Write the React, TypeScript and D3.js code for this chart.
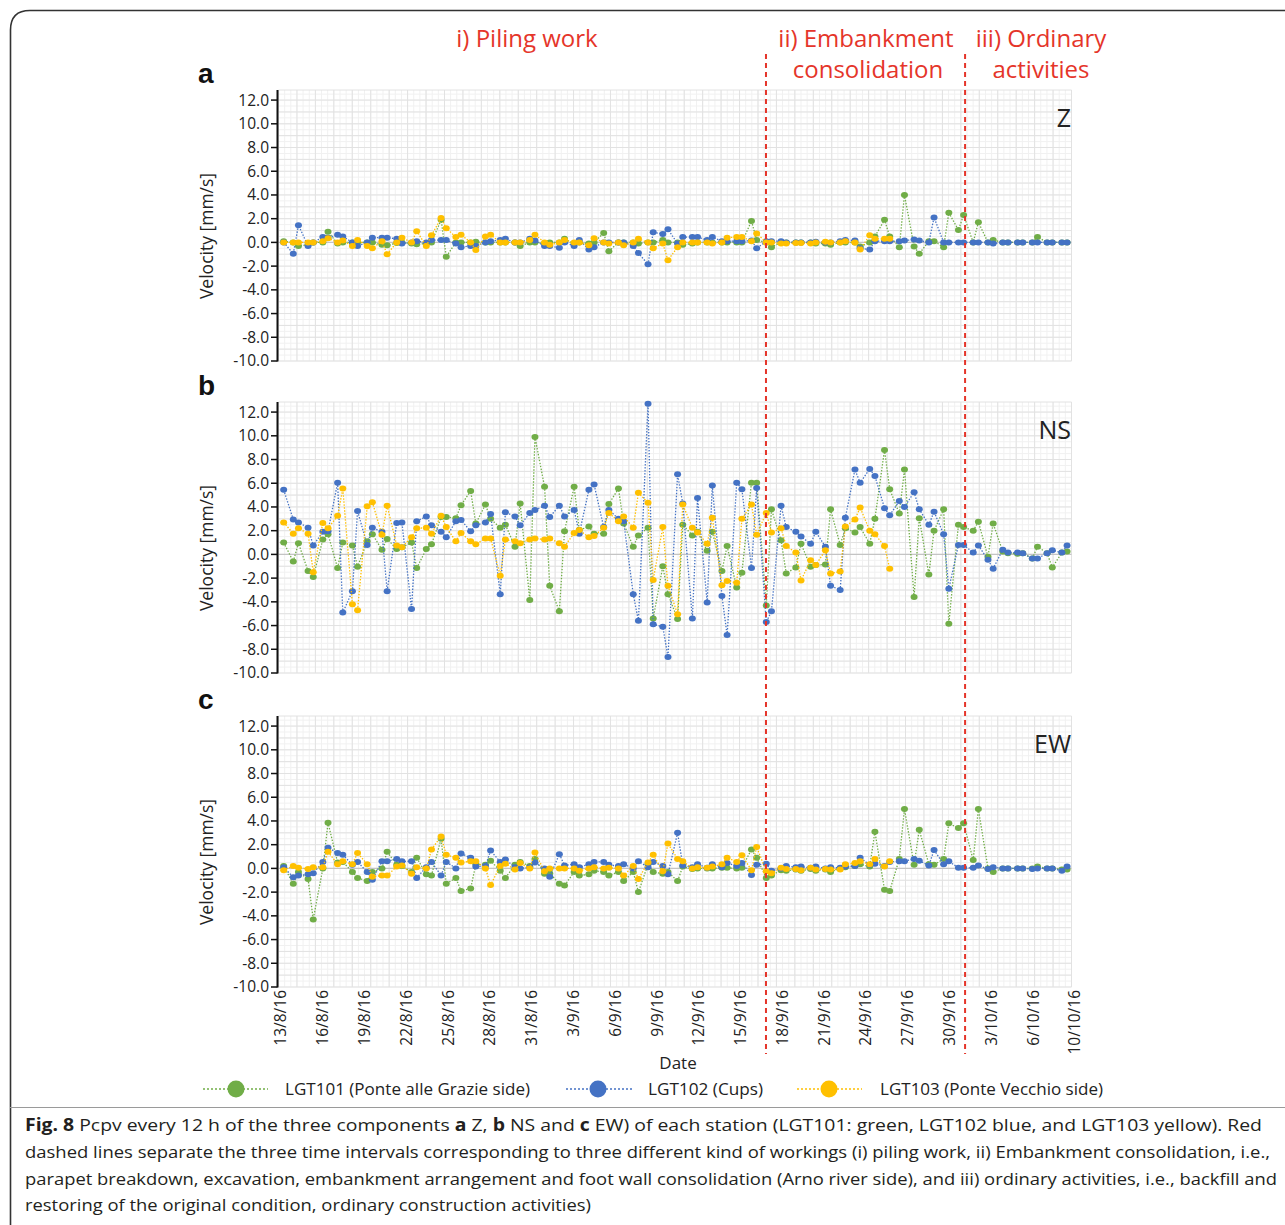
import { line, range, scaleLinear, scalePoint } from "d3";

// date labels printed under panel c (every 3 days)
const tickLabels = [
  "13/8/16", "16/8/16", "19/8/16", "22/8/16", "25/8/16", "28/8/16", "31/8/16",
  "3/9/16", "6/9/16", "9/9/16", "12/9/16", "15/9/16", "18/9/16", "21/9/16",
  "24/9/16", "27/9/16", "30/9/16", "3/10/16", "6/10/16", "10/10/16",
];

// two solutions per day: first at day k, second ~8.5 h later
const sampleDays: number[] = range(107).map((j) => {
  const k = Math.floor((j + 1) / 2);
  return j % 2 === 0 ? k + 0.35 : k;
});

// phase boundaries (same day units as sampleDays)
const phaseBreaks = [32.98, 46.45];

// ---- a) Z ----
const zGreen = [
  0.1,
  0, -0.3, -0.2, 0, 0, 0.9, -0.1, 0, 0, 0,
  0, 0, -0.2, -0.25, -0.05, 0, -0.1, -0.15, -0.1, 0,
  1.9, -1.2, 0, 0, 0, 0.05, 0, 0, 0, 0,
  0, -0.3, 0, 0, -0.1, 0, 0, 0.3, -0.1, 0,
  -0.1, 0, 0.8, -0.75, 0, 0, 0, -0.1, 0, 0,
  0.2, 0, 0, -0.2, -0.1, 0, 0, 0, 0, 0,
  0, 0, 1.8, 0.2, 0, -0.4, 0, 0, 0, 0,
  0, -0.1, -0.1, -0.2, 0, 0, 0, -0.35, 0, 0.5,
  1.9, 0.5, -0.4, 4.0, -0.35, -0.95, 0.1, 0.1, -0.4, 2.5,
  1.05, 2.3, 0, 1.7, 0, 0.2, 0, 0, 0, 0,
  0, 0.45, 0, 0, 0, 0,
];
const zBlue = [
  0,
  -0.95, 1.45, -0.3, 0, 0.45, 0.4, 0.65, 0.5, 0, -0.3,
  0, 0.4, 0.4, 0.4, 0.3, -0.1, 0, 0.1, 0, 0.2,
  0.2, 0.2, -0.1, -0.4, -0.3, -0.3, 0, 0.1, 0.2, 0.3,
  0, 0, 0.3, 0.15, -0.3, -0.3, -0.45, 0, -0.3, 0.2,
  -0.6, -0.4, 0, 0, 0, 0, -0.3, -0.9, -1.85, 0.85,
  0.7, 1.1, -0.1, 0.45, 0.45, 0.45, 0.2, 0.45, 0.1, 0.1,
  0.1, 0.1, 0.15, -0.5, 0.1, 0.1, 0.1, 0, 0, 0,
  0, 0.05, 0, 0, 0.1, 0.2, 0.15, -0.5, -0.6, 0.1,
  0.1, 0.1, 0.1, 0.15, 0.25, 0.15, 0, 2.1, 0, 0,
  0, 0, 0, 0, 0, -0.1, 0, 0, 0, 0,
  0, 0, 0, 0, 0, 0,
];
const zYellow = [
  0,
  0, 0, 0, 0, 0.1, 0.35, 0, 0.15, -0.3, 0.2,
  -0.3, -0.5, 0.1, -1.0, 0, 0.4, 0, 0.95, -0.3, 0.6,
  2.05, 1.2, 0.45, 0.65, 0, -0.65, 0.5, 0.65, 0, 0,
  0, 0, 0.2, 0.65, 0, -0.2, 0, 0.2, 0, 0,
  -0.25, 0.35, 0, -0.1, 0, -0.25, 0, 0.3, 0, -0.5,
  -0.1, -1.5, -0.4, 0, 0, 0, 0, -0.1, 0, 0.4,
  0.45, 0.45, 0.1, 0.75, 0, 0, -0.1, -0.1, -0.05, -0.05,
  -0.1, 0, 0.05, 0, 0, 0.1, 0, -0.6, 0.6, 0.3,
  0.3, 0.3,
];

// ---- b) NS ----
const nsGreen = [
  1.0,
  -0.6, 0.95, -1.4, -1.9, 1.25, 1.7, -1.15, 1.0, 0.75, -1.05,
  1.1, 1.7, 0.4, 1.3, 0.45, 0.6, 1.0, -1.15, 0.45, 0.85,
  3.15, 3.15, 3.05, 4.15, 5.35, 2.6, 4.2, 3.0, 2.25, 2.5,
  0.65, 4.3, -3.85, 9.9, 5.7, -2.65, -4.8, 1.95, 5.7, 2.05,
  2.35, 1.75, 1.75, 4.25, 5.55, 2.6, 0.65, 1.6, 2.25, -5.4,
  -1.0, -3.35, -5.45, 2.5, 1.6, 1.9, 0.3, 1.9, -1.4, 0.7,
  -2.8, -1.55, 6.05, 6.05, -4.3, 3.8, 1.2, -1.6, -1.1, 0.9,
  -1.05, -0.9, -0.85, 3.8, 0.8, 2.2, 1.85, 2.3, 0.9, 3.0,
  8.8, 5.5, 3.45, 7.15, -3.6, 3.05, -1.7, 2.0, 3.8, -5.85,
  2.5, 2.3, 2.0, 2.75, -0.2, 2.6, 0.25, 0.1, 0.05, 0.1,
  -0.35, 0.65, 0.1, -1.1, 0.15, 0.25,
];
const nsBlue = [
  5.45,
  2.95, 2.7, 2.25, 0.75, 1.9, 1.95, 6.05, -4.9, -3.1, 3.65,
  0.8, 2.25, 1.9, -3.1, 2.65, 2.7, -4.6, 2.8, 3.2, 2.45,
  1.9, 1.45, 2.8, 2.9, 1.95, 2.45, 2.7, 3.4, -3.35, 3.55,
  3.2, 2.45, 3.5, 3.75, 4.1, 3.15, 4.1, 3.2, 3.75, 1.75,
  5.45, 5.9, 2.3, 3.75, 3.0, 2.8, -3.35, -5.6, 12.7, -5.9,
  -6.1, -8.65, 6.75, 4.3, -5.4, 4.75, -4.05, 5.8, -3.5, -6.8,
  6.05, 5.5, -1.15, 5.6, -5.7, -4.8, 4.1, 2.3, 1.9, 1.5,
  0.9, 1.9, 0.65, -2.65, -3.0, 3.1, 7.15, 6.05, 7.2, 6.6,
  3.9, 3.3, 4.5, 4.0, 5.25, 3.8, 2.5, 3.6, 1.7, -2.9,
  0.8, 0.8, 0.15, 0.75, -0.45, -1.2, 0.4, 0.15, 0.15, 0.1,
  -0.35, -0.35, 0.1, 0.35, 0.15, 0.75,
];
const nsYellow = [
  2.7,
  1.75, 2.2, 1.75, -1.5, 2.65, 2.2, 3.25, 5.55, -4.2, -4.7,
  4.05, 4.4, 1.65, 4.1, 0.75, 0.6, 1.45, 2.2, 2.25, 1.75,
  3.25, 2.3, 1.1, 1.8, 1.1, 0.85, 1.35, 1.35, -1.8, 1.25,
  1.1, 0.95, 1.25, 1.35, 1.25, 1.35, 0.95, 0.65, 1.8, 2.05,
  1.45, 1.55, 2.25, 3.5, 2.8, 3.2, 2.25, 5.2, 4.35, -2.15,
  2.3, -2.65, -5.05, 4.2, 2.25, 1.85, 0.9, 3.1, -2.6, -2.25,
  -2.4, 3.0, 4.2, 1.65, 3.5, 1.85, 2.2, 0.7, 0.15, -2.2,
  -0.5, -0.9, 0.35, -1.6, -1.45, 2.35, 2.95, 3.95, 2.0, 1.7,
  0.7, -1.2,
];

// ---- c) EW ----
const ewGreen = [
  0.2,
  -1.3, -0.3, -0.9, -4.3, 0, 3.85, 0.5, 0.55, -0.3, -0.8,
  -1.07, -0.3, 0, 1.4, 0.3, 0.2, -0.3, 0.9, -0.5, -0.6,
  2.5, -1.3, -0.8, -1.9, -1.7, 0.35, 0.3, 0.65, -0.2, -0.8,
  0.3, 0.55, 0.2, 0.8, -0.45, -0.4, -1.3, -1.45, -0.3, -0.6,
  -0.5, -0.2, -0.3, -0.6, -0.3, -1.07, -0.3, -2.0, 0.35, -0.3,
  -0.45, -0.3, -1.07, 0.15, -0.05, 0, 0, 0, 0.05, 0.05,
  0, 0.05, 1.6, 0.9, -0.8, -0.6, -0.15, -0.2, -0.1, -0.2,
  -0.05, -0.2, -0.1, -0.3, 0, 0.1, 0.2, 0.35, 0.15, 3.1,
  -1.8, -1.9, 0.8, 5.0, 0.3, 3.25, 0.35, 0.3, 0.8, 3.8,
  3.4, 3.8, 0.7, 5.0, 0, -0.3, 0, 0, 0, 0,
  0, 0.15, 0, 0, -0.1, -0.1,
];
const ewBlue = [
  0.1,
  -0.75, -0.6, -0.5, -0.4, 0.55, 1.75, 1.3, 1.15, 0.3, 0.55,
  -0.3, -0.95, 0.6, 0.6, 0.8, 0.6, 0.6, -0.8, 0.1, 0.55,
  -0.6, 0.55, 0, 1.25, 0.9, 0.15, 0.2, 1.5, 0.55, 0.75,
  0.1, 0, 0.1, 0.5, 0, -0.7, 1.2, 0.25, 0.35, 0.1,
  0.35, 0.55, 0.55, 0.3, 0.2, 0.35, 0, 0.6, 0.1, 0.55,
  0.2, -0.5, 3.0, 0.25, 0.1, 0.35, 0.05, 0.35, 0.1, 0.45,
  0.2, 0.45, -0.55, 0.3, 0.4, -0.2, 0, 0.2, 0.1, 0.15,
  0.05, 0.15, 0, 0.1, 0.05, 0.15, 0.2, 0.9, 0.3, 0.4,
  0.2, 0.55, 0.6, 0.6, 0.8, 0.65, 0.25, 1.55, 0.35, 0.6,
  0.05, 0.05, 0.05, 0.25, -0.05, 0.1, 0, 0, 0, 0,
  -0.05, 0, 0, 0, -0.2, 0.15,
];
const ewYellow = [
  -0.15,
  0.2, 0.05, -0.05, 0.1, 0.1, 1.4, 0.35, 0.6, 0.35, 1.3,
  0.35, -0.7, -0.6, -0.6, 0.15, 0.25, -0.45, 0.1, 0, 1.6,
  2.7, 1.15, 0.9, 0.5, 0.6, 0.6, 0, -1.4, 0.2, 0.4,
  -0.1, 0.45, 0, 1.35, -0.25, 0, 0, 0, 0, -0.2,
  0, 0.1, 0, 0.05, 0, -0.6, 0.2, -0.9, 0.5, 1.15,
  -0.25, 2.1, 0.8, 0.6, 0, 0.1, 0.05, 0.15, 0.35, 0.9,
  0.55, 1.1, -0.15, 1.8, -0.25, -0.4, 0.05, -0.05, -0.05, -0.15,
  0.05, -0.1, -0.05, -0.1, -0.1, 0.35, 0.45, 0.6, 0.35, 0.8,
  0.15, 0.6,
];

const yTicks = [-10, -8, -6, -4, -2, 0, 2, 4, 6, 8, 10, 12];

const GREEN = "#70ad47";
const BLUE = "#4472c4";
const YELLOW = "#ffc000";
const RED = "#e5352a";

const panels = [
  { letter: "a", name: "Z", top: 90, series: [zGreen, zBlue, zYellow] },
  { letter: "b", name: "NS", top: 402, series: [nsGreen, nsBlue, nsYellow] },
  { letter: "c", name: "EW", top: 716, series: [ewGreen, ewBlue, ewYellow] },
];
const colors = [GREEN, BLUE, YELLOW];

const legendItems = [
  { label: "LGT101 (Ponte alle Grazie side)", color: GREEN, x1: 203, x2: 268, mx: 236, tx: 285, tw: 245 },
  { label: "LGT102 (Cups)", color: BLUE, x1: 566, x2: 632, mx: 598, tx: 648, tw: 115 },
  { label: "LGT103 (Ponte Vecchio side)", color: YELLOW, x1: 797, x2: 862, mx: 829, tx: 880, tw: 223 },
];

const W = 1285;
const H = 1225;
const plotLeft = 278.5;
const plotRight = 1071.5;
const panelH = 271;
const font = "'Open Sans', 'Noto Sans', sans-serif";

const x = scaleLinear().domain([0, 53.65]).range([plotLeft, plotRight]);
const xLabel = scalePoint<string>().domain(tickLabels).range([281, 1075]);

function Panel({ p, showDates }: { p: (typeof panels)[number]; showDates: boolean }) {
  const bottom = p.top + panelH;
  const y = scaleLinear().domain([-10, 12.85]).range([bottom, p.top]);
  const pw = plotRight - plotLeft;
  const minorX = range(130).map((i) => plotLeft + (i * pw) / 129);
  const majorX = range(44).map((i) => plotLeft + (i * pw) / 43);
  const minorY = range(-10, 12.85, 0.5);
  const majorY = range(-10, 13, 1);
  const path = line<number>()
    .x((_, i) => x(sampleDays[i]))
    .y((v) => y(v));

  return (
    <g>
      <rect x={plotLeft} y={p.top} width={pw} height={panelH} fill="#fff" />
      {minorX.map((gx, i) => (
        <line key={`mx${i}`} x1={gx} x2={gx} y1={p.top} y2={bottom} stroke="#f1f1f1" strokeWidth={1} />
      ))}
      {minorY.map((v, i) => (
        <line key={`my${i}`} x1={plotLeft} x2={plotRight} y1={y(v)} y2={y(v)} stroke="#f1f1f1" strokeWidth={1} />
      ))}
      {majorX.map((gx, i) => (
        <line key={`gx${i}`} x1={gx} x2={gx} y1={p.top} y2={bottom} stroke="#e2e2e2" strokeWidth={1} />
      ))}
      {majorY.map((v) => (
        <line key={`gy${v}`} x1={plotLeft} x2={plotRight} y1={y(v)} y2={y(v)}
          stroke={v === 0 ? "#c4c4c4" : "#e2e2e2"} strokeWidth={v === 0 ? 1.2 : 1} />
      ))}
      <line x1={plotLeft} x2={plotRight} y1={p.top} y2={p.top} stroke="#e2e2e2" />

      {p.series.map((vals, si) => (
        <g key={`s${si}`}>
          <path d={path(vals) ?? ""} fill="none" stroke={colors[si]} strokeWidth={1.3} strokeDasharray="1.4 1.6" />
          {vals.map((v, i) => (
            <ellipse key={i} cx={x(sampleDays[i])} cy={y(v)} rx={3.5} ry={3} fill={colors[si]} />
          ))}
        </g>
      ))}

      {/* y axis */}
      <line x1={277.5} x2={277.5} y1={p.top} y2={bottom + 0.5} stroke="#111" strokeWidth={2} />
      {yTicks.map((v) => (
        <g key={`t${v}`}>
          <line x1={271} x2={277.5} y1={y(v)} y2={y(v)} stroke="#111" strokeWidth={1.5} />
          <text x={269} y={y(v)} dy="0.35em" textAnchor="end" fontSize={15.5} fill="#222" fontFamily={font}>
            {v.toFixed(1)}
          </text>
        </g>
      ))}
      <text transform={`translate(213,${p.top + 146}) rotate(-90)`} textAnchor="middle" fontSize={17.5}
        fill="#222" fontFamily={font}>
        Velocity [mm/s]
      </text>
      <text x={198} y={p.top - 7} fontSize={28} fontWeight="bold" fill="#111"
        fontFamily="'Liberation Sans', Arial, sans-serif">
        {p.letter}
      </text>
      <text x={1071} y={p.top + 37} textAnchor="end" fontSize={25} fill="#222" fontFamily={font}>
        {p.name}
      </text>

      {showDates &&
        tickLabels.map((lbl) => (
          <text key={lbl} transform={`translate(${xLabel(lbl)},990) rotate(-90)`} textAnchor="end" dy="0.35em"
            fontSize={15.5} fill="#222" fontFamily={font}>
            {lbl}
          </text>
        ))}
    </g>
  );
}

export default function App() {
  return (
    <svg width={W} height={H} viewBox={`0 0 ${W} ${H}`}
      style={{ position: "absolute", left: 0, top: 0, background: "#fff" }}>
      <rect width={W} height={H} fill="#fff" />
      {/* rounded frame of the figure box */}
      <path d={`M10.5,${H + 5} L10.5,30 Q10.5,10.5 30,10.5 L${W + 5},10.5`} fill="none" stroke="#333" strokeWidth={1.6} />

      {/* phase titles */}
      <g fill={RED} fontFamily={font} fontSize={24} textAnchor="middle">
        <text x={527} y={47}>i) Piling work</text>
        <text x={866} y={47}>ii) Embankment</text>
        <text x={868} y={78}>consolidation</text>
        <text x={1041} y={47}>iii) Ordinary</text>
        <text x={1041} y={78}>activities</text>
      </g>

      {panels.map((p, i) => (
        <Panel key={p.letter} p={p} showDates={i === panels.length - 1} />
      ))}

      {phaseBreaks.map((d) => (
        <line key={d} x1={x(d)} x2={x(d)} y1={54} y2={1054} stroke={RED} strokeWidth={2} strokeDasharray="5 4" />
      ))}

      <text x={678} y={1069} textAnchor="middle" fontSize={17} fill="#222" fontFamily={font}>Date</text>

      {/* legend */}
      {legendItems.map((it) => (
        <g key={it.label}>
          <line x1={it.x1} x2={it.x2} y1={1089} y2={1089} stroke={it.color} strokeWidth={1.6} strokeDasharray="2 2" />
          <circle cx={it.mx} cy={1089} r={8.5} fill={it.color} />
          <text x={it.tx} y={1095} fontSize={17} fill="#222" fontFamily={font} textLength={it.tw}
            lengthAdjust="spacingAndGlyphs">
            {it.label}
          </text>
        </g>
      ))}

      {/* caption */}
      <line x1={10} x2={W} y1={1107.5} y2={1107.5} stroke="#9a9a9a" strokeWidth={1} />
      <g fontFamily={font} fontSize={17} fill="#231f20">
        <text x={25} y={1131} textLength={1237} lengthAdjust="spacingAndGlyphs">
          <tspan fontWeight="bold">Fig. 8</tspan> Pcpv every 12 h of the three components{" "}
          <tspan fontWeight="bold">a</tspan> Z, <tspan fontWeight="bold">b</tspan> NS and{" "}
          <tspan fontWeight="bold">c</tspan> EW) of each station (LGT101: green, LGT102 blue, and LGT103 yellow). Red
        </text>
        <text x={25} y={1158} textLength={1245} lengthAdjust="spacingAndGlyphs">
          dashed lines separate the three time intervals corresponding to three different kind of workings (i) piling work, ii) Embankment consolidation, i.e.,
        </text>
        <text x={25} y={1185} textLength={1252} lengthAdjust="spacingAndGlyphs">
          parapet breakdown, excavation, embankment arrangement and foot wall consolidation (Arno river side), and iii) ordinary activities, i.e., backfill and
        </text>
        <text x={25} y={1211} textLength={566} lengthAdjust="spacingAndGlyphs">
          restoring of the original condition, ordinary construction activities)
        </text>
      </g>
    </svg>
  );
}
